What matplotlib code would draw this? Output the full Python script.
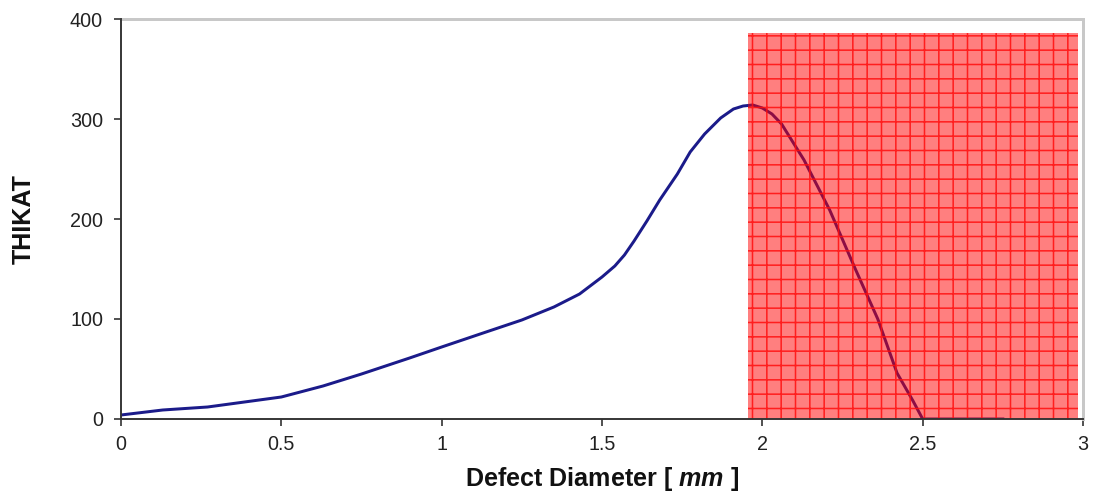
import matplotlib
matplotlib.use("Agg")
import matplotlib.pyplot as plt
from matplotlib.patches import Rectangle
from matplotlib import font_manager

# ---- data ----
diameter = [0.0, 0.13, 0.27, 0.5, 0.63, 0.75, 0.9, 1.0, 1.12, 1.25, 1.35, 1.43,
            1.5, 1.54, 1.57, 1.6, 1.64, 1.68, 1.735, 1.775, 1.82, 1.87, 1.91, 1.94,
            1.97, 2.0, 2.03, 2.06, 2.13, 2.21, 2.29, 2.36, 2.42, 2.47, 2.5, 2.6, 2.75]
thikat = [4, 9, 12, 22, 33, 45, 61, 72, 85, 99, 112, 125,
          142, 153, 164, 178, 198, 219, 245, 267, 285, 301, 310, 313,
          314, 311, 305, 295, 259, 209, 150, 100, 46, 18, 0, 0, 0]
zone_x = [1.955, 2.985]
zone_top = 386
xticks = [0, 0.5, 1, 1.5, 2, 2.5, 3]
xticklabels = ["0", "0.5", "1", "1.5", "2", "2.5", "3"]
yticks = [0, 100, 200, 300, 400]

avail = {f.name for f in font_manager.fontManager.ttflist}
narrow = "Liberation Sans Narrow" if "Liberation Sans Narrow" in avail else "Liberation Sans"

plt.rcParams["font.family"] = ["Liberation Sans", "DejaVu Sans"]
plt.rcParams["mathtext.fontset"] = "custom"
plt.rcParams["mathtext.it"] = "Liberation Sans:bold:italic"
plt.rcParams["mathtext.rm"] = "Liberation Sans:bold"
plt.rcParams["hatch.linewidth"] = 1.3

DPI = 86
fig = plt.figure(figsize=(1094 / DPI, 494 / DPI), dpi=DPI)
ax = fig.add_axes([121 / 1094, 1 - 419 / 494, (1083 - 121) / 1094, (419 - 19) / 494])

ax.plot(diameter, thikat, color="#1b1b8a", lw=2.5, zorder=2, clip_on=True,
        solid_joinstyle="round")

# pink fill
ax.add_patch(Rectangle((zone_x[0], 0), zone_x[1] - zone_x[0], zone_top,
                       facecolor=(1, 0, 0, 0.5), edgecolor="none", zorder=3))
# red grid hatch
ax.add_patch(Rectangle((zone_x[0], 0), zone_x[1] - zone_x[0], zone_top,
                       facecolor="none", edgecolor=(1, 0.05, 0.05, 0.85), linewidth=0,
                       hatch="+", zorder=3.1))

ax.set_xlim(0, 3)
ax.set_ylim(0, 400)
ax.set_xticks(xticks)
ax.set_xticklabels(xticklabels)
ax.set_yticks(yticks)

for s in ["top", "right"]:
    ax.spines[s].set_color("#c8c8c8")
    ax.spines[s].set_linewidth(2.5)
for s in ["left", "bottom"]:
    ax.spines[s].set_color("#333333")
    ax.spines[s].set_linewidth(1.6)
    ax.spines[s].set_zorder(4)

ax.tick_params(axis="both", direction="out", length=6, width=1.4, color="#333333",
               labelsize=16.5, labelcolor="#222222", pad=7)
ax.tick_params(axis="y", pad=9)

ax.set_xlabel("Defect Diameter [ $mm$ ]", fontsize=21, fontweight="bold",
              color="#111111", labelpad=10)
ax.set_ylabel("THIKAT", fontsize=21, fontweight="bold", family=[narrow, "DejaVu Sans"],
              color="#111111")
ax.yaxis.set_label_coords(-85 / 962, 0.5)

fig.savefig("out.png", dpi=DPI)
